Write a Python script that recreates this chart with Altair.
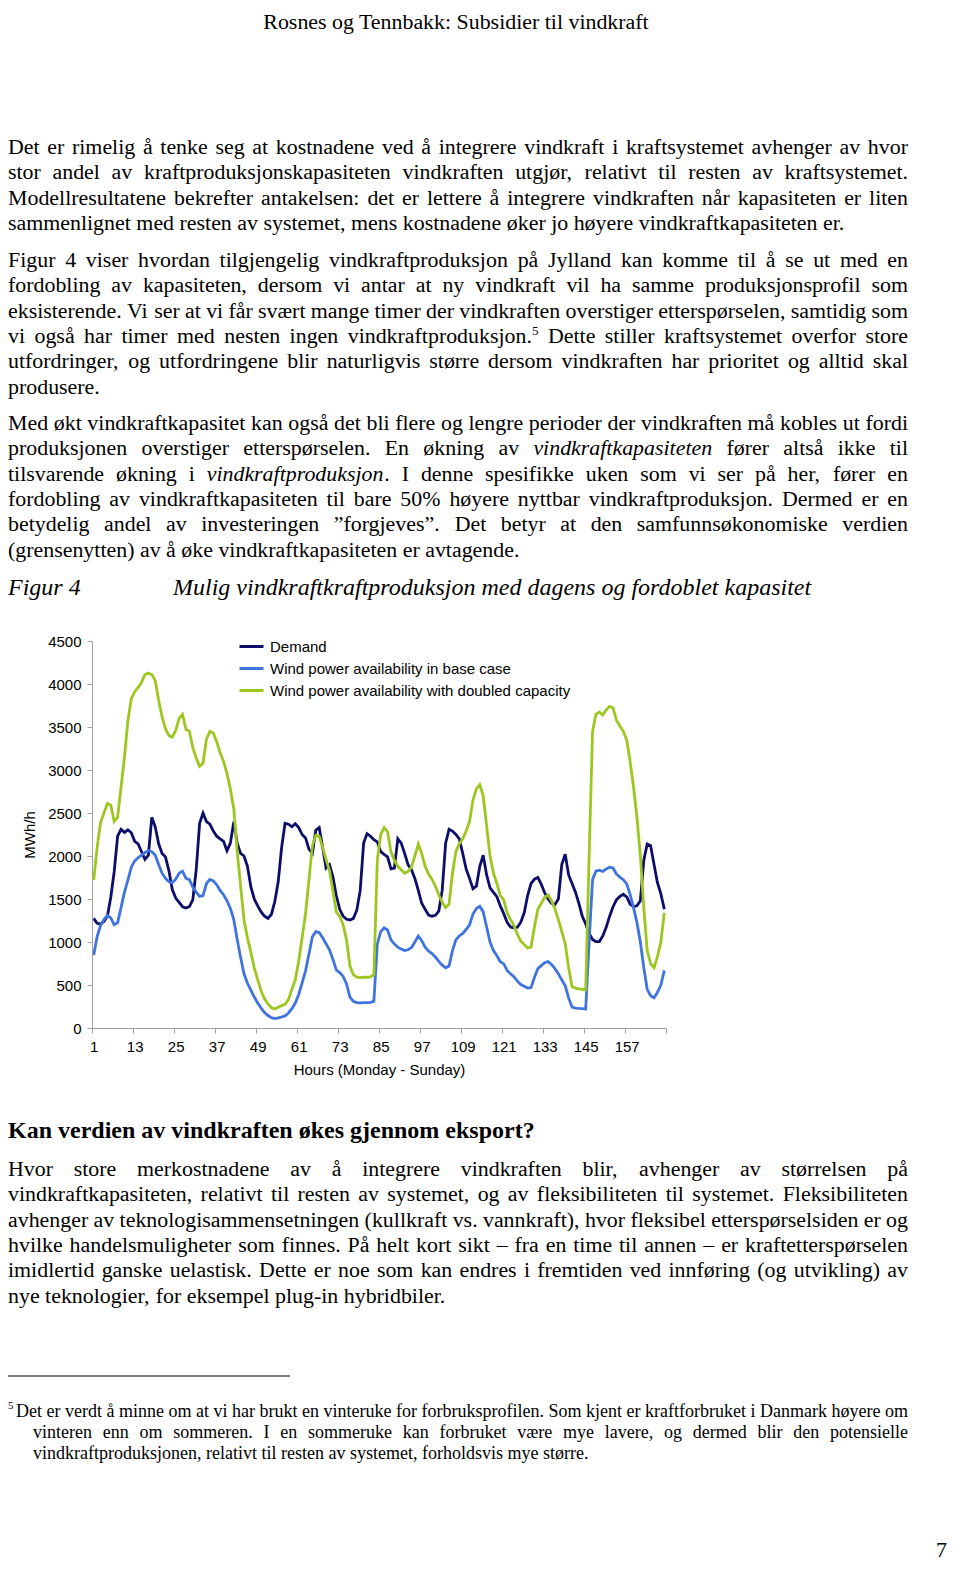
import altair as alt
import pandas as pd

# ---------------- chart data ----------------
hours = list(range(1, 169))

demand = [
    1275, 1217, 1210, 1237, 1300, 1520, 1820, 2230, 2310, 2275, 2305, 2270,
    2170, 2140, 2050, 1960, 2010, 2450, 2340, 2145, 2030, 1990, 1830, 1610,
    1510, 1460, 1410, 1395, 1411, 1490, 1840, 2380, 2500, 2400, 2370, 2290,
    2230, 2200, 2170, 2060, 2150, 2400, 2150, 2030, 2000, 1880, 1640, 1500,
    1420, 1350, 1300, 1275, 1320, 1470, 1700, 2100, 2380, 2370, 2340, 2375,
    2330, 2250, 2210, 2080, 2030, 2300, 2330, 2100, 1860, 1900, 1760, 1540,
    1380, 1300, 1265, 1256, 1275, 1370, 1600, 2150, 2260, 2230, 2190, 2165,
    2050, 2020, 1990, 1850, 1860, 2200, 2150, 2030, 1900, 1840, 1740, 1600,
    1450, 1380, 1314, 1300, 1310, 1360, 1600, 2150, 2310, 2290, 2250, 2200,
    2030, 1850, 1740, 1620, 1650, 1880, 2010, 1780, 1630, 1577, 1527, 1420,
    1330, 1230, 1175, 1165, 1171, 1230, 1340, 1540, 1680, 1730, 1750, 1670,
    1570, 1500, 1449, 1435, 1500, 1900, 2020, 1780, 1680, 1580, 1450, 1300,
    1210, 1100, 1030, 1005, 1005, 1070, 1170, 1300, 1410, 1490, 1530, 1555,
    1525, 1440, 1411, 1420, 1480, 1950, 2140, 2120, 1900, 1690, 1560, 1380,
]

base_case = [
    850, 1063, 1190, 1260, 1310, 1280, 1200, 1225, 1400, 1580, 1720, 1870,
    1944, 1980, 2010, 2040, 2060, 2050, 2010, 1900, 1800, 1740, 1700, 1690,
    1730, 1800, 1824, 1740, 1725, 1640, 1580, 1530, 1540, 1680, 1728, 1710,
    1665, 1600, 1550, 1480, 1390, 1260, 1030, 820, 630, 520, 440, 360,
    290, 230, 180, 145, 120, 110, 118, 128, 140, 175, 225, 290,
    390, 525, 665, 860, 1060, 1120, 1110, 1050, 980, 910, 800, 675,
    645, 600, 512, 360, 310, 295, 292, 295, 295, 298, 310, 975,
    1120, 1165, 1140, 1025, 975, 940, 920, 900, 910, 935, 1000, 1070,
    1015, 940, 895, 865, 825, 775, 730, 700, 720, 900, 1025, 1070,
    1100, 1145, 1200, 1325, 1390, 1415, 1350, 1175, 1000, 900, 840, 770,
    745, 670, 630, 595, 545, 505, 485, 465, 470, 590, 690, 725,
    760, 773, 740, 690, 630, 560, 490, 350, 242, 232, 228, 225,
    222, 1000, 1725, 1825, 1836, 1820, 1850, 1870, 1860, 1790, 1755, 1725,
    1675, 1550, 1400, 1225, 1000, 700, 450, 375, 350, 415, 500, 670,
]

doubled = [
    1720, 2100, 2390, 2500, 2610, 2590, 2400, 2450, 2800, 3150, 3570, 3830,
    3910, 3960, 4020, 4110, 4128, 4110, 4040, 3810, 3620, 3480, 3400, 3382,
    3460, 3600, 3645, 3470, 3450, 3260, 3140, 3042, 3080, 3360, 3450, 3430,
    3330, 3200, 3100, 2960, 2780, 2550, 2050, 1650, 1250, 1050, 880, 700,
    560, 430, 340, 280, 235, 220, 240, 260, 275, 330, 450, 560,
    780, 1050, 1330, 1720, 2120, 2240, 2230, 2100, 1960, 1830, 1600, 1350,
    1300, 1200, 1024, 720, 620, 590, 585, 590, 590, 595, 620, 1950,
    2250, 2330, 2280, 2050, 1950, 1880, 1840, 1800, 1820, 1870, 2000, 2140,
    2030, 1880, 1790, 1730, 1650, 1550, 1460, 1400, 1440, 1800, 2050, 2140,
    2200, 2290, 2400, 2650, 2780, 2830, 2700, 2350, 2000, 1800, 1680, 1540,
    1490, 1340, 1260, 1190, 1090, 1010, 970, 930, 940, 1180, 1380, 1450,
    1520, 1546, 1480, 1380, 1260, 1120, 980, 700, 483, 464, 455, 450,
    444, 2000, 3450, 3650, 3672, 3640, 3700, 3740, 3720, 3580, 3510, 3450,
    3350, 3100, 2800, 2450, 2000, 1400, 900, 750, 700, 830, 1000, 1340,
]

series_names = [
    "Demand",
    "Wind power availability in base case",
    "Wind power availability with doubled capacity",
]
series_colors = ["#0d0d6b", "#3f74e0", "#9dc71f"]
x_tick_values = [0.5 + 12 * k for k in range(15)]
y_tick_values = list(range(0, 4501, 500))
y_title = "MWh/h"
x_title = "Hours (Monday - Sunday)"

# ---------------- page text ----------------
header_text = "Rosnes og Tennbakk: Subsidier til vindkraft"

para1 = [
    "Det er rimelig å tenke seg at kostnadene ved å integrere vindkraft i kraftsystemet avhenger av hvor",
    "stor andel av kraftproduksjonskapasiteten vindkraften utgjør, relativt til resten av kraftsystemet.",
    "Modellresultatene bekrefter antakelsen: det er lettere å integrere vindkraften når kapasiteten er liten",
    "sammenlignet med resten av systemet, mens kostnadene øker jo høyere vindkraftkapasiteten er.",
]
para2 = [
    "Figur 4 viser hvordan tilgjengelig vindkraftproduksjon på Jylland kan komme til å se ut med en",
    "fordobling av kapasiteten, dersom vi antar at ny vindkraft vil ha samme produksjonsprofil som",
    "eksisterende. Vi ser at vi får svært mange timer der vindkraften overstiger etterspørselen, samtidig som",
    "vi også har timer med nesten ingen vindkraftproduksjon.^5 Dette stiller kraftsystemet overfor store",
    "utfordringer, og utfordringene blir naturligvis større dersom vindkraften har prioritet og alltid skal",
    "produsere.",
]
para3 = [
    "Med økt vindkraftkapasitet kan også det bli flere og lengre perioder der vindkraften må kobles ut fordi",
    "produksjonen overstiger etterspørselen. En økning av *vindkraftkapasiteten* fører altså ikke til",
    "tilsvarende økning i *vindkraftproduksjon*. I denne spesifikke uken som vi ser på her, fører en",
    "fordobling av vindkraftkapasiteten til bare 50% høyere nyttbar vindkraftproduksjon. Dermed er en",
    "betydelig andel av investeringen ”forgjeves”. Det betyr at den samfunnsøkonomiske verdien",
    "(grensenytten) av å øke vindkraftkapasiteten er avtagende.",
]
caption_label = "Figur 4"
caption_text = "Mulig vindkraftkraftproduksjon med dagens og fordoblet kapasitet"
heading_text = "Kan verdien av vindkraften økes gjennom eksport?"
para4 = [
    "Hvor store merkostnadene av å integrere vindkraften blir, avhenger av størrelsen på",
    "vindkraftkapasiteten, relativt til resten av systemet, og av fleksibiliteten til systemet. Fleksibiliteten",
    "avhenger av teknologisammensetningen (kullkraft vs. vannkraft), hvor fleksibel etterspørselsiden er og",
    "hvilke handelsmuligheter som finnes. På helt kort sikt – fra en time til annen – er kraftetterspørselen",
    "imidlertid ganske uelastisk. Dette er noe som kan endres i fremtiden ved innføring (og utvikling) av",
    "nye teknologier, for eksempel plug-in hybridbiler.",
]
footnote_mark = "5"
footnote = [
    "Det er verdt å minne om at vi har brukt en vinteruke for forbruksprofilen. Som kjent er kraftforbruket i Danmark høyere om",
    "vinteren enn om sommeren. I en sommeruke kan forbruket være mye lavere, og dermed blir den potensielle",
    "vindkraftproduksjonen, relativt til resten av systemet, forholdsvis mye større.",
]
page_number = "7"

# ---------------- font metrics (Times, per 1000 em) for justification ----------------
LOW = "abcdefghijklmnopqrstuvwxyz"
UP = "ABCDEFGHIJKLMNOPQRSTUVWXYZ"
W_R = dict(zip(LOW, [444, 500, 444, 500, 444, 333, 500, 500, 278, 278, 500, 278, 778,
                     500, 500, 500, 500, 333, 389, 278, 500, 500, 722, 500, 500, 444]))
W_R.update(zip(UP, [722, 667, 667, 722, 611, 556, 722, 722, 333, 389, 722, 611, 889,
                    722, 722, 556, 722, 667, 556, 611, 722, 722, 944, 722, 722, 611]))
W_R.update({" ": 250, ",": 250, ".": 250, ":": 278, ";": 278, "-": 333, "(": 333, ")": 333,
            "?": 444, "%": 833, "/": 278, "å": 444, "æ": 667, "ø": 500, "Å": 722, "Ø": 722,
            "Æ": 889, "–": 500, "”": 444, "“": 444, "’": 333})
W_I = dict(zip(LOW, [500, 500, 444, 500, 444, 278, 500, 500, 278, 278, 444, 278, 722,
                     500, 500, 500, 500, 389, 389, 278, 500, 444, 667, 444, 444, 389]))
W_I.update(zip(UP, [611, 611, 667, 722, 611, 611, 722, 722, 333, 444, 667, 556, 833,
                    667, 722, 611, 722, 611, 500, 556, 722, 611, 833, 611, 556, 556]))
W_I.update({" ": 250, ",": 250, ".": 250, ":": 333, "-": 333, "å": 500, "ø": 500, "æ": 667})


def text_width(s, table, fs):
    return sum(table.get(c, 500) for c in s) * fs / 1000.0


def parse_token(tok):
    runs, cur, style = [], "", "r"
    for c in tok:
        if c == "*":
            if cur:
                runs.append((cur, style))
            cur = ""
            style = "i" if style == "r" else "r"
        elif c == "^":
            if cur:
                runs.append((cur, style))
            cur = ""
            style = "sup"
        else:
            cur += c
    if cur:
        runs.append((cur, style))
    return runs


def layout_line(line, y, left, right, fs, sup_fs, sup_dy, justify, rows):
    tokens = [parse_token(t) for t in line.split(" ")]

    def run_w(text, style):
        if style == "i":
            return text_width(text, W_I, fs)
        if style == "sup":
            return text_width(text, W_R, sup_fs)
        return text_width(text, W_R, fs)

    widths = [sum(run_w(t, s) for t, s in tok) for tok in tokens]
    if justify and len(tokens) > 1:
        gap = (right - left - sum(widths)) / (len(tokens) - 1)
    else:
        gap = 0.25 * fs
    x = left
    for tok, w in zip(tokens, widths):
        xr = x
        for t, s in tok:
            rows[s].append({"x": xr, "y": y - (sup_dy if s == "sup" else 0), "text": t})
            xr += run_w(t, s)
        x += w + gap


BODY_FS = 21.9
LINE_H = 25.3
LEFT, RIGHT = 0, 900
body_rows = {"r": [], "i": [], "sup": []}
for para, y0 in [(para1, 146), (para2, 259), (para3, 422), (para4, 1168)]:
    for k, line in enumerate(para):
        layout_line(line, y0 + k * LINE_H, LEFT, RIGHT, BODY_FS, 13, 8,
                    k < len(para) - 1, body_rows)

FN_FS = 18
fn_rows = {"r": [], "i": [], "sup": []}
for k, line in enumerate(footnote):
    left = 8 if k == 0 else 25
    layout_line(line, 1409 + k * 21, left, RIGHT, FN_FS, 11, 8,
                k < len(footnote) - 1, fn_rows)
fn_rows["sup"].append({"x": 0, "y": 1401, "text": footnote_mark})


def text_layer(rows, align="left", **props):
    df = pd.DataFrame(rows, columns=["x", "y", "text"])
    return alt.Chart(df).mark_text(align=align, baseline="alphabetic", color="black",
                                   font="Liberation Serif", **props).encode(
        x=alt.X("x:Q", scale=None, axis=None),
        y=alt.Y("y:Q", scale=None, axis=None),
        text=alt.Text("text:N"),
    )


texts = [
    text_layer([{"x": 448, "y": 21, "text": header_text}], align="center", fontSize=21.9),
    text_layer(body_rows["r"], fontSize=BODY_FS),
    text_layer(body_rows["i"], fontSize=BODY_FS, fontStyle="italic"),
    text_layer(body_rows["sup"], fontSize=13),
    text_layer([{"x": 0, "y": 587, "text": caption_label},
                {"x": 165, "y": 587, "text": caption_text}], fontSize=24, fontStyle="italic"),
    text_layer([{"x": 0, "y": 1130, "text": heading_text}], fontSize=24, fontWeight="bold"),
    text_layer(fn_rows["r"], fontSize=FN_FS),
    text_layer(fn_rows["sup"], fontSize=11),
    text_layer([{"x": 928, "y": 1549, "text": page_number}], fontSize=22),
]

rule = alt.Chart(pd.DataFrame({"k": [0]})).mark_rule(color="black", strokeWidth=1.2).encode(
    x=alt.value(0), x2=alt.value(282), y=alt.value(1368)
)

# ---------------- line chart ----------------
VIEW_W, VIEW_H = 944, 1556
PLOT_L, PLOT_R = 84, 658
PLOT_B, PLOT_T = 1020, 633

rows = []
for name, vals in zip(series_names, [demand, base_case, doubled]):
    for h, v in zip(hours, vals):
        rows.append({"hour": h, "value": v, "series": name})
df_lines = pd.DataFrame(rows)

axis_common = dict(
    grid=False, domainColor="#a0a0a0", tickColor="#a0a0a0", tickSize=5,
    labelFont="Liberation Sans", labelFontSize=15, labelColor="black",
    titleFont="Liberation Sans", titleFontSize=15, titleFontWeight="normal",
    titleColor="black",
)

lines = alt.Chart(df_lines).mark_line(strokeWidth=2.8).encode(
    x=alt.X("hour:Q",
            scale=alt.Scale(domain=[0.5, 168.5], range=[PLOT_L, PLOT_R], nice=False, zero=False),
            axis=alt.Axis(values=x_tick_values, title=x_title, orient="bottom",
                          offset=PLOT_B - VIEW_H, labelOffset=1.7, labelPadding=6,
                          labelFlush=False, labelOverlap=False, titlePadding=8,
                          labelExpr="datum.value > 168 ? '' : format(datum.value + 0.5, 'd')",
                          **axis_common)),
    y=alt.Y("value:Q",
            scale=alt.Scale(domain=[0, 4500], range=[PLOT_B, PLOT_T], nice=False),
            axis=alt.Axis(values=y_tick_values, title=y_title, orient="left", format="d",
                          offset=-PLOT_L, labelPadding=6, titlePadding=10,
                          labelOverlap=False, **axis_common)),
    color=alt.Color("series:N",
                    scale=alt.Scale(domain=series_names, range=series_colors),
                    legend=alt.Legend(orient="none", legendX=230, legendY=625, title=None,
                                      symbolType="stroke", symbolSize=576,
                                      symbolStrokeWidth=3, labelFont="Liberation Sans",
                                      labelFontSize=15, labelColor="black", labelLimit=600,
                                      rowPadding=0, padding=0, labelOffset=5)),
)

chart = alt.layer(lines, *texts, rule).properties(
    width=VIEW_W, height=VIEW_H, padding=0,
    autosize=alt.AutoSizeParams(type="none"), background="white",
).resolve_scale(x="independent", y="independent").configure_view(strokeWidth=0)

chart.save("out.html", embed_options={"renderer": "svg", "actions": False})
